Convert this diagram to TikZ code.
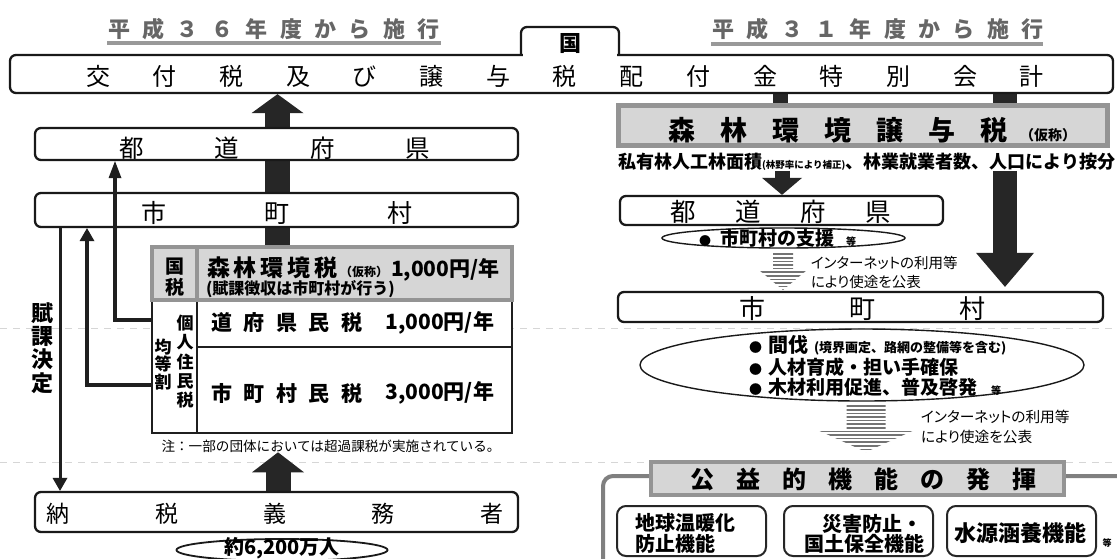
\documentclass[tikz,border=0pt]{standalone}
\usepackage{fontspec}
\setmainfont{Noto Sans CJK JP}
\newfontfamily\jpp{Noto Sans CJK JP}[RawFeature=+palt]
\usetikzlibrary{arrows.meta,calc,shapes.geometric}
\pgfdeclarelayer{bg}
\pgfsetlayers{bg,main}
\ExplSyntaxOn
\NewDocumentCommand\spreadtext{mm}{\tl_map_inline:nn{#2}{\makebox[#1]{##1}}}
\ExplSyntaxOff
\newcommand\fsz[1]{\fontsize{#1}{#1}\selectfont}
\newcommand\bul[1]{{\fsz{#1}●}}
\newcommand\hatcharrow[6]{%
  \begin{scope}
    \clip ({#1-#3},#2) -- ({#1+#3},#2) -- ({#1+#3},#4) -- ({#1+#5},#4) -- (#1,#6) -- ({#1-#5},#4) -- ({#1-#3},#4) -- cycle;
    \foreach \k in {0,...,16} {\draw[black!55, line width=1.7pt] ({#1-#5-2},{#2+1.2+\k*3.6}) -- ({#1+#5+2},{#2+1.2+\k*3.6});}
  \end{scope}}
\begin{document}
\begin{tikzpicture}[x=1pt,y=-1pt,
  rbox/.style={draw=black!90, line width=2.3pt, rounded corners=6pt, fill=white, inner sep=0pt},
  gbox/.style={draw=black!42, line width=4.5pt, fill=black!16, inner sep=0pt},
  ibox/.style={draw=black!85, line width=2pt, rounded corners=9pt, fill=white, inner sep=0pt, minimum width=149pt, minimum height=50pt},
  txt/.style={inner sep=0pt, outer sep=0pt},
  conn/.style={draw=black!88, line width=3.6pt},
  fold/.style={draw=black!16, line width=0.8pt, dash pattern=on 7pt off 6pt}]
\useasboundingbox (0,0) rectangle (1117,558);

% titles
\node[txt, font=\bfseries\fsz{22}, text=black!60] (t36) at (274,29) {\spreadtext{34.4pt}{平成３６年度から施行}};
\draw[black!40, line width=4pt] (107,43) -- (441,43);
\node[txt, font=\bfseries\fsz{22}, text=black!60] (t31) at (878,29) {\spreadtext{34.4pt}{平成３１年度から施行}};
\draw[black!40, line width=4pt] (711,44) -- (1043,44);

% national account
\node[rbox, minimum width=1103pt, minimum height=38pt] (main) at (561.5,74) {};
\fill[white] (523,50) rectangle (617,58);
\draw[black!90, line width=2.3pt, rounded corners=6pt] (521,55) -- (521,27) -- (619,27) -- (619,55);
\node[txt, font=\bfseries\fsz{22}] (kuni) at (570,44) {国};
\node[txt, font=\fsz{24}] (maintx) at (565,76) {\spreadtext{66.71pt}{交付税及び譲与税配付金特別会計}};

% left column
\node[rbox, minimum width=483pt, minimum height=32pt] (lpref) at (276.5,144) {};
\node[txt, font=\fsz{24.5}] (lpreft) at (275,148) {\spreadtext{95.5pt}{都道府県}};
\node[rbox, minimum width=483pt, minimum height=34pt] (lmuni) at (276.5,210) {};
\node[txt, font=\fsz{25}] (lmunit) at (277,213) {\spreadtext{123pt}{市町村}};

\node[draw=black!88, line width=2.6pt, fill=white, minimum width=360pt, minimum height=133pt, inner sep=0pt] (ltbl) at (332,366.5) {};
\draw[black!88, line width=2.6pt] (197,300) -- (197,433) (197,347) -- (512,347);
\node[gbox, minimum width=360pt, minimum height=53pt] (lhdr) at (332,273.5) {};
\draw[black!42, line width=4.5pt] (197,247) -- (197,300);

\node[txt, align=center, font=\bfseries\fontsize{19}{20.5}\selectfont] (kz) at (174.5,277) {国\\税};
\node[txt, anchor=base west, font=\bfseries] (shz) at (205,276.7) {{\fsz{23}\spreadtext{27pt}{森林環境税}}{\fsz{12}（仮称）}\hspace{3pt}{\fsz{21}1,000円/年}};
\node[txt, anchor=base west, font=\bfseries\fsz{16}] (fuk) at (206,294.7) {(賦課徴収は市町村が行う)};
\node[txt, font=\bfseries\fsz{21}] (dfk) at (287,323) {\spreadtext{32.5pt}{道府県民税}};
\node[txt, anchor=east, font=\bfseries\fsz{21}] (dfkv) at (494,323) {1,000円/年};
\node[txt, font=\bfseries\fsz{21}] (smz) at (287,393) {\spreadtext{32.5pt}{市町村民税}};
\node[txt, anchor=east, font=\bfseries\fsz{21}] (smzv) at (494,393) {3,000円/年};
\node[txt, align=center, font=\bfseries\fontsize{17}{19.2}\selectfont] (kojin) at (185,361.6) {個\\人\\住\\民\\税};
\node[txt, align=center, font=\bfseries\fontsize{17}{17.6}\selectfont] (kint) at (163,364.5) {均\\等\\割};
\node[txt, font=\fsz{13.6}] (note) at (331,446) {注：一部の団体においては超過課税が実施されている。};

\node[txt, align=center, font=\bfseries\fontsize{22}{23.3}\selectfont] (fuka) at (42,348) {賦\\課\\決\\定};

\node[rbox, minimum width=483pt, minimum height=40pt] (lnoz) at (276.5,512) {};
\node[txt, font=\fsz{23}] (lnozt) at (275,514) {\spreadtext{108.3pt}{納税義務者}};
\node[ellipse, draw=black!90, line width=1.8pt, fill=white, minimum width=211pt, minimum height=22pt, inner sep=0pt] (pop) at (282,550) {};
\node[txt, font=\bfseries\fsz{20}] (popt) at (282,548) {約6,200万人};

\draw[conn, -{Triangle[width=13pt,length=17pt,line width=0pt]}] (ltbl.west |- 0,320) -| (115,0 |- lpref.south);
\draw[conn, -{Triangle[width=15pt,length=13pt,line width=0pt]}] (ltbl.west |- 0,385) -| (87,0 |- lmuni.south);
\draw[conn, line width=3pt, -{Triangle[width=15pt,length=13pt,line width=0pt]}] (60,0 |- lmuni.south) -- (60,0 |- lnoz.north);

% right column
\node[gbox, line width=5pt, minimum width=489pt, minimum height=40pt] (rshin) at (862.5,125) {};
\node[txt, anchor=base west, font=\bfseries] (rshint) at (656,140.3) {{\fsz{27}\spreadtext{52pt}{森林環境譲与税}}{\fsz{14}（仮称）}};
\node[txt, anchor=base west, font=\bfseries\fsz{18}] (shiyu) at (618,168.8) {私有林人工林面積{\fsz{9.5}(林野率により補正)}、林業就業者数、人口により按分};

\node[rbox, minimum width=323pt, minimum height=29pt] (rpref) at (781.5,210.5) {};
\node[txt, font=\fsz{25.5}] (rpreft) at (780.5,212) {\spreadtext{65pt}{都道府県}};
\node[ellipse, draw=black!90, line width=1.4pt, minimum width=243pt, minimum height=20pt, inner sep=0pt] (sien) at (783.5,238) {};
\node[txt, anchor=base west, font=\bfseries\fsz{19}] (sient) at (699,245.2) {\bul{12}\hspace{9pt}市町村の支援\hspace{12pt}{\fsz{10}等}};

\hatcharrow{783}{253}{10}{270}{24}{290}
\node[txt, anchor=west, align=left, font=\jpp\fontsize{14.5}{19.5}\selectfont] (pub1) at (811,272.5) {インターネットの利用等\\により使途を公表};

\node[rbox, minimum width=485pt, minimum height=30pt] (rmuni) at (860.5,307) {};
\node[txt, font=\fsz{26}] (rmunit) at (862,309) {\spreadtext{110pt}{市町村}};
\node[ellipse, draw=black!90, line width=1.4pt, minimum width=444pt, minimum height=72pt, inner sep=0pt] (uses) at (862,365) {};
\node[txt, anchor=base west, font=\bfseries\fsz{20}] (u1) at (749,352.6) {\bul{13}\hspace{6pt}間伐\hspace{6pt}{\fsz{13}(境界画定、路網の整備等を含む)}};
\node[txt, anchor=base west, font=\bfseries\fsz{19}] (u2) at (749,374.2) {\bul{13}\hspace{6pt}人材育成・担い手確保};
\node[txt, anchor=base west, font=\bfseries\fsz{19}] (u3) at (749,394.2) {\bul{13}\hspace{6pt}木材利用促進、普及啓発\hspace{14pt}{\fsz{10}等}};

\hatcharrow{866}{405}{19.5}{430}{48.5}{452}
\node[txt, anchor=west, align=left, font=\jpp\fontsize{14.7}{20}\selectfont] (pub2) at (921,427) {インターネットの利用等\\により使途を公表};

\node[draw=black!50, line width=4pt, rounded corners=10pt, fill=white, minimum width=527pt, minimum height=94pt, inner sep=0pt] (kouo) at (866.5,523) {};
\node[gbox, line width=4pt, minimum width=413pt, minimum height=33pt] (kouh) at (857.5,478.5) {};
\node[txt, font=\bfseries\fsz{24}] (kouht) at (863.5,479) {\spreadtext{46.1pt}{公益的機能の発揮}};
\node[ibox] (b1) at (691.5,531) {};
\node[ibox] (b2) at (858.5,531) {};
\node[ibox] (b3) at (1021.5,531) {};
\node[txt, anchor=west, align=left, font=\bfseries\fontsize{20}{20.5}\selectfont] (b1t) at (635,533.5) {地球温暖化\\防止機能};
\node[txt, anchor=west, font=\bfseries\fsz{20}] (b2a) at (822,524) {災害防止・};
\node[txt, anchor=west, font=\bfseries\fsz{20}] (b2b) at (804,543.5) {国土保全機能};
\node[txt, font=\bfseries\fsz{22}] (b3t) at (1020,533) {水源涵養機能};
\node[txt, font=\bfseries\fsz{9}] (etc) at (1107,543) {等};

\begin{pgfonlayer}{bg}
\fill[white] (0,0) rectangle (1117,558);
\draw[fold] (0,328) -- (1117,328);
\draw[fold] (0,462) -- (1117,462);
\draw[black!85, line width=25pt, -{Triangle[width=52pt,length=19pt,line width=0pt]}] (277.5,0 |- lhdr.north) -- (277.5,0 |- main.south);
\draw[black!85, line width=25pt, -{Triangle[width=52pt,length=20pt,line width=0pt]}] (278,0 |- lnoz.north) -- (278,0 |- note.south);
\draw[black!85, line width=15pt] (780.5,0 |- main.south) -- (780.5,0 |- rshin.north);
\draw[black!85, line width=24pt] (1005,0 |- main.south) -- (1005,0 |- rshin.north);
\draw[black!85, line width=15pt, -{Triangle[width=40pt,length=17pt,line width=0pt]}] (782,0 |- shiyu.south) -- (782,0 |- rpref.north);
\draw[black!85, line width=24pt, shorten >=4pt, -{Triangle[width=58pt,length=34pt,line width=0pt]}] (1005,0 |- shiyu.south) -- (1005,0 |- rmuni.north);
\end{pgfonlayer}
\end{tikzpicture}
\end{document}
